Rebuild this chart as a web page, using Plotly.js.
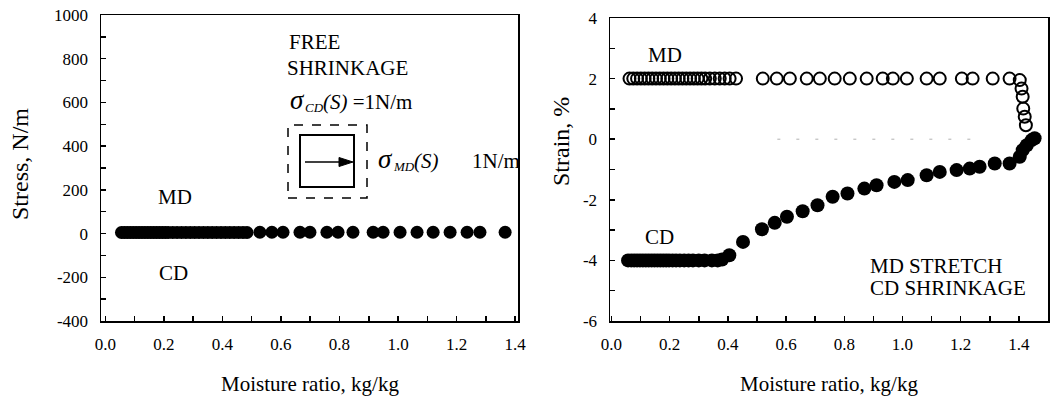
<!DOCTYPE html>
<html>
<head>
<meta charset="utf-8">
<script src="https://cdn.plot.ly/plotly-3.0.1.min.js"></script>
<style>html,body{margin:0;padding:0;background:#fff;}#chart{width:1052px;height:400px;}</style>
</head>
<body>
<div id="chart"></div>
<script>
// ---------- data ----------
// Left panel: free shrinkage, stress (N/m) vs moisture ratio (kg/kg)
var stressX = [0.055,0.065,0.075,0.085,0.095,0.105,0.115,0.125,0.135,0.145,0.155,0.165,0.175,0.185,0.195,0.205,0.215,0.23,0.245,0.26,0.275,0.29,0.305,0.32,0.335,0.35,0.365,0.38,0.395,0.41,0.425,0.44,0.455,0.47,0.484,
               0.528,0.569,0.607,0.665,0.699,0.757,0.795,0.846,0.915,0.949,1.007,1.065,1.120,1.178,1.236,1.280,1.366];
var stressY = [5,5,5,5,5,5,5,5,5,5,5,5,5,5,5,5,5,5,5,5,5,5,5,5,5,5,5,5,5,5,5,5,5,5,5,
               6,6,6,6,6,6,6,6,6,6,6,6,6,6,6,6,6];

// Right panel: MD stretch / CD shrinkage, strain (%) vs moisture ratio
var mdX = [0.062,0.075,0.088,0.101,0.114,0.127,0.140,0.153,0.166,0.179,0.192,0.205,0.218,0.231,0.244,0.257,0.270,0.283,0.296,0.309,0.322,0.338,0.355,0.372,0.389,0.406,0.428,
           0.52,0.568,0.613,0.671,0.716,0.767,0.819,0.877,0.932,0.967,1.015,1.083,1.128,1.204,1.241,1.310,1.368,1.403,
           1.409,1.413,1.415,1.420,1.424];
var mdY = [2,2,2,2,2,2,2,2,2,2,2,2,2,2,2,2,2,2,2,2,2,2,2,2,2,2,2,
           2,2,2,2,2,2,2,2,2,2,2,2,2,2,2,2,2,1.95,
           1.67,1.40,1.01,0.74,0.46];

var cdX = [0.057,0.068,0.078,0.088,0.098,0.108,0.118,0.128,0.138,0.148,0.158,0.168,0.178,0.188,0.198,0.21,0.222,0.235,0.25,0.265,0.28,0.30,0.32,0.345,0.365,
           0.38,0.405,0.452,0.517,0.561,0.603,0.657,0.708,0.760,0.811,0.869,0.911,0.972,1.018,1.083,1.128,1.186,1.231,1.265,1.317,1.368,
           1.403,1.413,1.427,1.444,1.454];
var cdY = [-4,-4,-4,-4,-4,-4,-4,-4,-4,-4,-4,-4,-4,-4,-4,-4,-4,-4,-4,-4,-4,-4,-4,-4,-4,
           -3.97,-3.83,-3.39,-2.97,-2.76,-2.56,-2.38,-2.18,-1.90,-1.79,-1.63,-1.52,-1.41,-1.35,-1.19,-1.08,-1.02,-0.97,-0.91,-0.80,-0.80,
           -0.58,-0.36,-0.20,-0.03,0.03];

// faint reference line at zero strain
var zeroLineX = [0.57, 1.28];
var zeroLineY = [0, 0];

// tick labels
var xTickVals = [0,0.2,0.4,0.6,0.8,1.0,1.2,1.4];
var xTickText = ['0.0','0.2','0.4','0.6','0.8','1.0','1.2','1.4'];
var stressTickVals = [-400,-200,0,200,400,600,800,1000];
var stressTickText = ['-400','-200','0','200','400','600','800','1000'];
var strainTickVals = [-6,-4,-2,0,2,4];
var strainTickText = ['-6','-4','-2','0','2','4'];

// ---------- layout helpers ----------
var W = 1052, H = 400;
function fx(p){ return p / W; }
function fy(p){ return 1 - p / H; }
var FONT = '"Liberation Serif", "Times New Roman", Times, serif';

function axisBase(){
  return {
    showline: true, mirror: true, linecolor: '#000', linewidth: 1.5,
    showgrid: false, zeroline: false,
    ticks: 'inside', ticklen: 5, tickwidth: 1.5, tickcolor: '#000',
    tickfont: {family: FONT, size: 17, color: '#000'},
    tickmode: 'array'
  };
}

var xaxis = Object.assign(axisBase(), {
  domain: [fx(101), fx(518)], range: [-0.015, 1.41], anchor: 'y',
  tickvals: xTickVals, ticktext: xTickText, ticklabelstandoff: 7,
  minor: {ticks: 'inside', dtick: 0.1, tick0: 0, ticklen: 5, tickwidth: 1.5, tickcolor: '#000', showgrid: false}
});
var yaxis = Object.assign(axisBase(), {
  domain: [fy(321), fy(15)], range: [-400, 1000], anchor: 'x',
  tickvals: stressTickVals, ticktext: stressTickText, ticklabelstandoff: 8,
  minor: {ticks: 'inside', dtick: 100, tick0: 0, ticklen: 5, tickwidth: 1.5, tickcolor: '#000', showgrid: false}
});
var xaxis2 = Object.assign(axisBase(), {
  domain: [fx(610), fx(1048)], range: [-0.005, 1.5], anchor: 'y2',
  tickvals: xTickVals, ticktext: xTickText, ticklabelstandoff: 7,
  minor: {ticks: 'inside', dtick: 0.1, tick0: 0, ticklen: 5, tickwidth: 1.5, tickcolor: '#000', showgrid: false}
});
var yaxis2 = Object.assign(axisBase(), {
  domain: [fy(321), fy(18)], range: [-6, 4], anchor: 'x2',
  tickvals: strainTickVals, ticktext: strainTickText, ticklabelstandoff: 8,
  minor: {ticks: 'inside', dtick: 1, tick0: 0, ticklen: 5, tickwidth: 1.5, tickcolor: '#000', showgrid: false}
});

var traces = [
  {x: stressX, y: stressY, xaxis: 'x', yaxis: 'y', type: 'scatter', mode: 'markers',
   marker: {symbol: 'circle', size: 13, color: '#000'}, name: 'Stress'},
  {x: zeroLineX, y: zeroLineY, xaxis: 'x2', yaxis: 'y2', type: 'scatter', mode: 'lines',
   line: {color: '#b0b0b0', width: 1, dash: '3px,16px'}, hoverinfo: 'skip', name: 'zero'},
  {x: mdX, y: mdY, xaxis: 'x2', yaxis: 'y2', type: 'scatter', mode: 'markers',
   marker: {symbol: 'circle-open', size: 12, color: '#000', line: {width: 2, color: '#000'}}, name: 'MD'},
  {x: cdX, y: cdY, xaxis: 'x2', yaxis: 'y2', type: 'scatter', mode: 'markers',
   marker: {symbol: 'circle', size: 14, color: '#000'}, name: 'CD'}
];

function txt(text, px, py, opts, size){
  return Object.assign({
    text: text, x: fx(px), y: fy(py), xref: 'paper', yref: 'paper',
    xanchor: 'center', yanchor: 'middle', showarrow: false,
    font: {family: FONT, size: size || 21, color: '#000'}
  }, opts || {});
}

var annotations = [
  // axis titles
  txt('Moisture ratio, kg/kg', 310, 384),
  txt('Moisture ratio, kg/kg', 829, 384),
  txt('Stress, N/m', 20, 164, {textangle: -90}, 24),
  txt('Strain, %', 561, 142, {textangle: -90}, 24),
  // left panel labels
  txt('FREE', 287, 42, {xanchor: 'left'}),
  txt('SHRINKAGE', 285, 68, {xanchor: 'left'}),
  // sigma_CD(S) = 1N/m
  txt('<i>σ</i>', 288, 100, {xanchor: 'left'}, 27),
  txt('<i>CD</i>', 303, 107, {xanchor: 'left'}, 13),
  txt('<i>(S)</i> =1N/m', 321, 102, {xanchor: 'left'}),
  // sigma_MD(S)   1N/m
  txt('<i>σ</i>', 376, 159, {xanchor: 'left'}, 27),
  txt('<i>MD</i>', 391, 166, {xanchor: 'left'}, 13),
  txt('<i>(S)</i>', 412, 161, {xanchor: 'left'}),
  txt('1N/m', 470, 161, {xanchor: 'left'}),
  txt('MD', 175, 197),
  txt('CD', 173, 273),
  // right panel labels
  txt('MD', 665, 55),
  txt('CD', 659, 237),
  txt('MD STRETCH', 868, 266, {xanchor: 'left'}),
  txt('CD SHRINKAGE', 868, 288, {xanchor: 'left'})
];

var shapes = [
  {type: 'rect', xref: 'paper', yref: 'paper', x0: fx(288), x1: fx(367), y0: fy(198), y1: fy(125),
   line: {color: '#000', width: 1.5, dash: 'dash'}},
  {type: 'rect', xref: 'paper', yref: 'paper', x0: fx(300), x1: fx(354), y0: fy(187), y1: fy(135),
   line: {color: '#000', width: 2}},
  // arrow shaft and head
  {type: 'line', xref: 'paper', yref: 'paper', x0: fx(305), x1: fx(342), y0: fy(162), y1: fy(162),
   line: {color: '#000', width: 1.5}},
  {type: 'path', xref: 'paper', yref: 'paper',
   path: 'M ' + fx(339) + ',' + fy(157.5) + ' L ' + fx(353) + ',' + fy(162) + ' L ' + fx(339) + ',' + fy(166.5) + ' Z',
   fillcolor: '#000', line: {color: '#000', width: 1}}
];

var layout = {
  width: W, height: H,
  margin: {l: 0, r: 0, t: 0, b: 0, pad: 0},
  paper_bgcolor: '#fff', plot_bgcolor: '#fff',
  showlegend: false,
  font: {family: FONT, size: 17, color: '#000'},
  xaxis: xaxis, yaxis: yaxis, xaxis2: xaxis2, yaxis2: yaxis2,
  annotations: annotations, shapes: shapes
};

Plotly.newPlot('chart', traces, layout, {displayModeBar: false, staticPlot: true});
</script>
</body>
</html>
